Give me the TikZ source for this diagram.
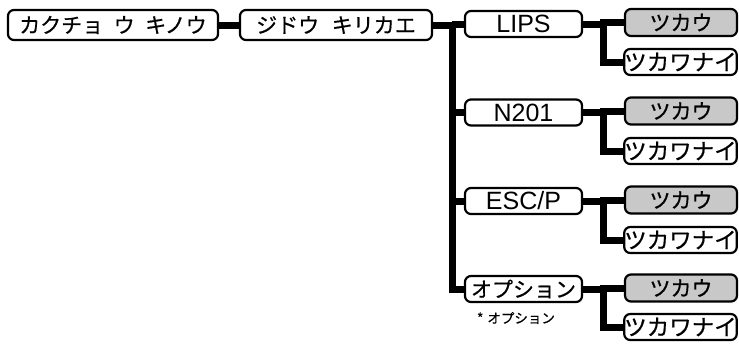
\documentclass[tikz,border=0pt]{standalone}
\usepackage{fontspec}
\setmainfont{Liberation Sans}
\newfontfamily\jp[FakeBold=0.6]{Noto Sans CJK JP}
\definecolor{boxgray}{RGB}{200,200,200}
\begin{document}
\begin{tikzpicture}[x=1pt,y=-1pt,
  box/.style={draw, line width=2.2pt, rounded corners=6pt, inner sep=0pt, fill=white,
    font=\jp\fontsize{21}{21}\selectfont},
  latin/.style={font=\fontsize{25}{25}\selectfont},
  top/.style={box, minimum height=30pt},
  mid/.style={box, minimum width=117pt, minimum height=26pt},
  use/.style={box, fill=boxgray, minimum width=112pt, minimum height=27pt},
  nouse/.style={box, minimum width=111pt, minimum height=26pt,
    font=\jp\fontsize{22.5}{22.5}\selectfont},
  conn/.style={line width=7pt, line join=miter},
  note/.style={font=\jp\fontsize{13.5}{13.5}\selectfont, inner sep=0pt}]
\useasboundingbox (0,0) rectangle (739,346);

% nodes
\node[top, minimum width=210pt] (b1) at (113,25) {カクチョ\hspace{0.5em}ウ\hspace{0.5em}キノウ};
\node[top, minimum width=192pt] (b2) at (336,25) {ジドウ\hspace{0.6em}キリカエ};

\node[mid, latin] (lips) at (523.5,24) {LIPS};
\node[mid, latin] (n201) at (523.5,112.5) {N201};
\node[mid, latin] (escp) at (523.5,201) {ESC/P};
\node[mid] (opt) at (523.5,289) {オプション};
\node[note] (optnote) at (516,318) {*\hspace{0.3em}オプション};

\node[use] (u1) at (681,22.5) {ツカウ};
\node[nouse] (n1) at (680.5,62) {ツカワナイ};
\node[use] (u2) at (681,111) {ツカウ};
\node[nouse] (n2) at (680.5,151) {ツカワナイ};
\node[use] (u3) at (681,200) {ツカウ};
\node[nouse] (n3) at (680.5,240) {ツカワナイ};
\node[use] (u4) at (681,288) {ツカウ};
\node[nouse] (n4) at (680.5,327) {ツカワナイ};

\coordinate (tr) at (452,25);
\coordinate (s1) at (603,24);
\coordinate (s2) at (603,112.5);
\coordinate (s3) at (603,201);
\coordinate (s4) at (603,289);

% connectors
\draw[conn] (b1.east) -- (b2.west);
\draw[conn] (b2.east) -- (tr) |- (opt.west);
\draw[conn] (tr |- lips.west) -- (lips.west);
\draw[conn] (tr |- n201.west) -- (n201.west);
\draw[conn] (tr |- escp.west) -- (escp.west);

\draw[conn] (lips.east) -- (s1) |- (u1.west);
\draw[conn] (s1) |- (n1.west);
\draw[conn] (n201.east) -- (s2) |- (u2.west);
\draw[conn] (s2) |- (n2.west);
\draw[conn] (escp.east) -- (s3) |- (u3.west);
\draw[conn] (s3) |- (n3.west);
\draw[conn] (opt.east) -- (s4) |- (u4.west);
\draw[conn] (s4) |- (n4.west);
\end{tikzpicture}
\end{document}
